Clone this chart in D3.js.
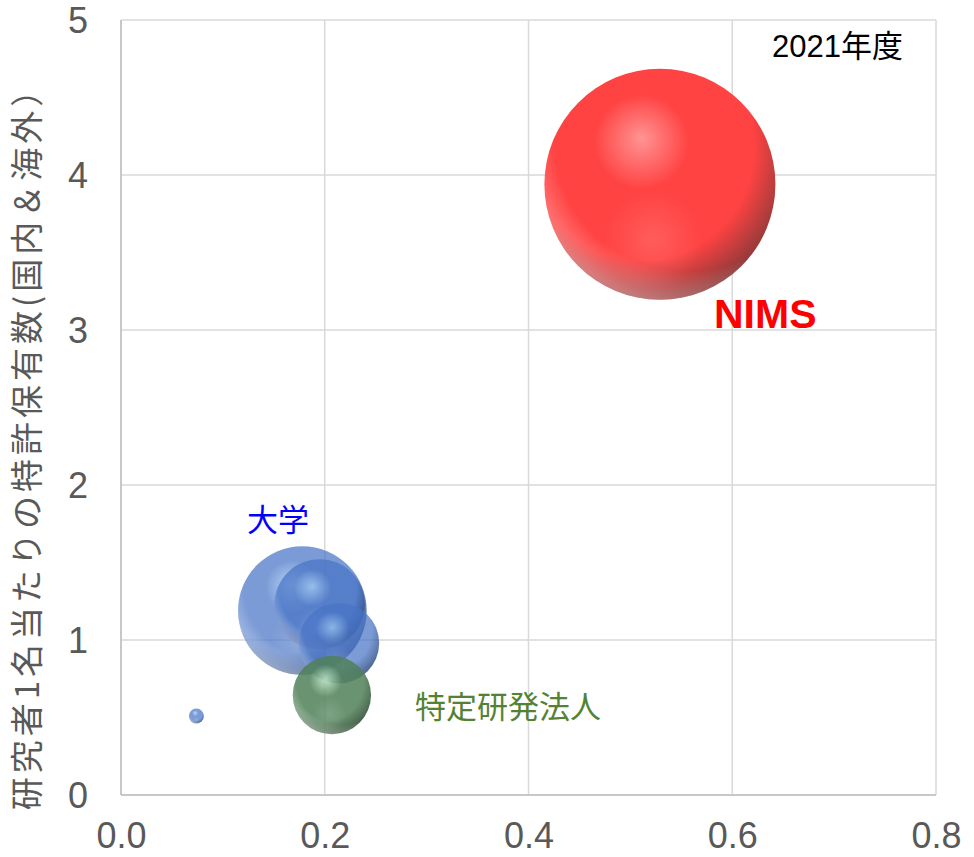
<!DOCTYPE html>
<html><head><meta charset="utf-8">
<script src="https://cdn.jsdelivr.net/npm/d3@7"></script>
<style>
body{margin:0;background:#fff;}
svg{display:block;}
</style></head>
<body>
<svg id="chart" width="974" height="857"></svg>
<script>
// ---- data ----
const names = ["NIMS", "大学A", "大学B", "大学C", "大学D", "特定研発法人"];
const groups = ["nims", "univ", "univ", "univ", "univ", "npo"];
const xValues = [0.529, 0.178, 0.195, 0.214, 0.074, 0.207];
const yValues = [3.94, 1.19, 1.23, 0.98, 0.51, 0.645];
const sizeValues = [100, 31, 15.3, 12.1, 0.42, 11.5];
const xTicks = [0, 0.2, 0.4, 0.6, 0.8];
const yTicks = [0, 1, 2, 3, 4, 5];
const drawOrder = [0, 1, 2, 3, 4, 5];

const svg = d3.select("#chart");
const m = {left:121, top:20, right:974-936, bottom:857-795};
const W = 974, H = 857;
const x = d3.scaleLinear().domain([0, 0.8]).range([m.left, W - m.right]);
const y = d3.scaleLinear().domain([0, 5]).range([H - m.bottom, m.top]);
const r = d3.scaleSqrt().domain([0, 100]).range([0, 115.5]);

const defs = svg.append("defs");
function sphere(id, hi, mid, edge, op, edgeOp) {
  const g = defs.append("radialGradient").attr("id", id)
    .attr("cx", "0.42").attr("cy", "0.36").attr("r", "0.74")
    .attr("fx", "0.42").attr("fy", "0.3");
  g.append("stop").attr("offset", "0").attr("stop-color", hi).attr("stop-opacity", op);
  g.append("stop").attr("offset", "0.28").attr("stop-color", mid).attr("stop-opacity", op);
  g.append("stop").attr("offset", "0.66").attr("stop-color", mid).attr("stop-opacity", op);
  g.append("stop").attr("offset", "1").attr("stop-color", edge).attr("stop-opacity", edgeOp);
}
sphere("g-nims", "#ff9494", "#ff4242", "#5e3636", 1, 1);
sphere("g-univ", "#9cc6f0", "#4874c6", "#1c3058", 0.72, 0.88);
sphere("g-npo", "#b4e0bc", "#4f8058", "#233a25", 0.85, 0.92);
// rim light at lower-left
const rim = defs.append("radialGradient").attr("id", "rim")
  .attr("cx", "0.62").attr("cy", "0.3").attr("r", "0.72");
rim.append("stop").attr("offset", "0.8").attr("stop-color", "#fff").attr("stop-opacity", 0);
rim.append("stop").attr("offset", "1").attr("stop-color", "#fff").attr("stop-opacity", 0.32);
// soft bottom reflection
const refl = defs.append("radialGradient").attr("id", "refl")
  .attr("cx", "0.47").attr("cy", "0.74").attr("r", "0.22");
refl.append("stop").attr("offset", "0").attr("stop-color", "#fff").attr("stop-opacity", 0.14);
refl.append("stop").attr("offset", "1").attr("stop-color", "#fff").attr("stop-opacity", 0);

// gridlines
svg.append("g").selectAll("line").data(xTicks).join("line")
  .attr("x1", d => x(d)).attr("x2", d => x(d))
  .attr("y1", y(0)).attr("y2", y(5))
  .attr("stroke", "#d9d9d9").attr("stroke-width", 1.5);
svg.append("g").selectAll("line").data(yTicks).join("line")
  .attr("x1", x(0)).attr("x2", x(0.8))
  .attr("y1", d => y(d)).attr("y2", d => y(d))
  .attr("stroke", "#d9d9d9").attr("stroke-width", 1.5);

// axis lines
svg.append("line").attr("x1", x(0)).attr("x2", x(0)).attr("y1", y(0)).attr("y2", y(5))
  .attr("stroke", "#bfbfbf").attr("stroke-width", 1.5);
svg.append("line").attr("x1", x(0)).attr("x2", x(0.8)).attr("y1", y(0)).attr("y2", y(0))
  .attr("stroke", "#bfbfbf").attr("stroke-width", 1.5);

// tick labels using d3 axes
const xAxis = svg.append("g").attr("transform", `translate(0,${y(0)})`)
  .call(d3.axisBottom(x).tickValues(xTicks).tickFormat(d3.format(".1f")).tickSize(0).tickPadding(0));
xAxis.select(".domain").remove();
xAxis.selectAll("text").attr("fill", "#595959").attr("dy", null).attr("y", 53)
  .style("font-family", "'Liberation Sans',Arial,sans-serif")
  .style("font-size", "36px");

const yAxis = svg.append("g").attr("transform", `translate(${x(0)},0)`)
  .call(d3.axisLeft(y).tickValues(yTicks).tickFormat(d3.format("d")).tickSize(0).tickPadding(33));
yAxis.select(".domain").remove();
yAxis.selectAll("text").attr("fill", "#595959").attr("dy", "0.35em")
  .style("font-family", "'Liberation Sans',Arial,sans-serif")
  .style("font-size", "36px");

// bubbles
const bubbles = svg.append("g");
drawOrder.forEach(i => {
  const cx = x(xValues[i]), cy = y(yValues[i]), rr = r(sizeValues[i]);
  bubbles.append("circle").attr("cx", cx).attr("cy", cy).attr("r", rr)
    .attr("fill", `url(#g-${groups[i]})`);
  bubbles.append("circle").attr("cx", cx).attr("cy", cy).attr("r", rr)
    .attr("fill", "url(#refl)");
  bubbles.append("circle").attr("cx", cx).attr("cy", cy).attr("r", rr)
    .attr("fill", "url(#rim)");
});

// y-axis title
svg.append("text")
  .attr("transform", `translate(25,440) rotate(-90)`)
  .attr("text-anchor", "middle")
  .attr("dominant-baseline", "central")
  .attr("fill", "#595959")
  .style("font-family", "'Noto Sans CJK JP',sans-serif")
  .style("font-size", "33px")
  .style("letter-spacing", "4px")
  .text("研究者1名当たりの特許保有数(国内＆海外）");

// annotations
svg.append("text").attr("x", 903).attr("y", 57).attr("text-anchor", "end")
  .style("font-family", "'Liberation Sans','Noto Sans CJK JP',sans-serif")
  .style("font-size", "31px").attr("fill", "#000").text("2021年度");
svg.append("text").attr("x", 714).attr("y", 328)
  .style("font-family", "'Liberation Sans',Arial,sans-serif").style("font-weight", "bold")
  .style("font-size", "41px").attr("fill", "#ff0000").text("NIMS");
svg.append("text").attr("x", 247).attr("y", 531)
  .style("font-family", "'Noto Sans CJK JP',sans-serif")
  .style("font-size", "31px").attr("fill", "#0000ff").text("大学");
svg.append("text").attr("x", 415).attr("y", 718)
  .style("font-family", "'Noto Sans CJK JP',sans-serif")
  .style("font-size", "31px").attr("fill", "#548235").text("特定研発法人");
</script>
</body></html>
